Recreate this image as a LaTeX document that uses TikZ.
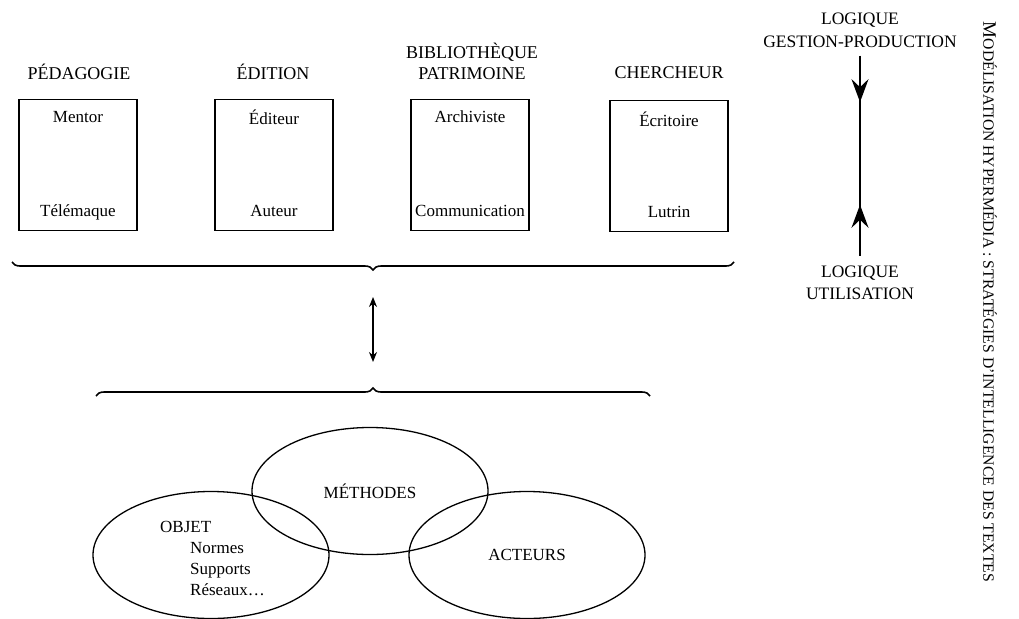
\documentclass[tikz,border=0pt]{standalone}
\usepackage{fontspec}
\setmainfont{Liberation Serif}
\usetikzlibrary{arrows.meta,decorations.pathreplacing,decorations.markings,shapes.geometric}

\begin{document}
\begin{tikzpicture}[x=1pt,y=-1pt,
  texte/.style={font=\fontsize{17}{21}\selectfont, inner sep=0pt, align=center},
  titre/.style={texte, font=\fontsize{18}{21}\selectfont},
  boite/.style={draw, line width=1.3pt, minimum width=118pt, minimum height=131pt, inner sep=0pt},
  bulle/.style={draw, ellipse, line width=1.3pt, minimum width=236pt, minimum height=127pt, inner sep=0pt, font=\fontsize{17}{21}\selectfont},
  accolade/.style={decorate, decoration={brace, amplitude=8pt}, line width=1.6pt},
  fleche/.style={{Stealth[length=10pt,width=8pt]}-{Stealth[length=10pt,width=8pt]}, line width=1.4pt},
  pointe/.tip={Stealth[length=23pt,width=17pt,inset=8pt]}]
\useasboundingbox (0,0) rectangle (1019,618);

\node[boite] (ped) at (78,165) {};
\node[boite] (edi) at (274,165) {};
\node[boite] (bib) at (470,165) {};
\node[boite] (che) at (669,166) {};

\node[titre] (tped) at (79,72) {PÉDAGOGIE};
\node[titre] (tedi) at (273,72) {ÉDITION};
\node[titre] (tbib) at (472,61) {BIBLIOTHÈQUE\\PATRIMOINE};
\node[titre] (tche) at (669,73) {CHERCHEUR};

\node[texte] (mentor) at (78,117) {Mentor};
\node[texte] (telem) at (78,212) {Télémaque};
\node[texte] (editeur) at (274,117) {Éditeur};
\node[texte] (auteur) at (274,211) {Auteur};
\node[texte] (archi) at (470,117) {Archiviste};
\node[texte] (commu) at (470,211) {Communication};
\node[texte] (ecrit) at (669,119) {Écritoire};
\node[texte] (lutrin) at (669,212) {Lutrin};

\coordinate (accHG) at (12,262);
\coordinate (accHD) at (734,262);
\coordinate (pointeHaut) at (373,270);
\coordinate (accBG) at (96,396);
\coordinate (accBD) at (650,396);
\coordinate (pointeBas) at (373,388);
\draw[accolade, decoration={mirror}] (accHG) -- (accHD);
\draw[accolade] (accBG) -- (accBD);
\draw[fleche, shorten <=27pt, shorten >=26pt] (pointeHaut) -- (pointeBas);

\node[texte, font=\fontsize{17.5}{23}\selectfont] (gest) at (860,30) {LOGIQUE\\GESTION-PRODUCTION};
\node[texte, font=\fontsize{17.5}{22}\selectfont] (util) at (860,283) {LOGIQUE\\UTILISATION};
\draw[line width=2.2pt, shorten <=8pt, shorten >=10pt, postaction=decorate,
  decoration={markings,
    mark=at position 0.25 with {\arrow{pointe}},
    mark=at position 0.72 with {\arrowreversed{pointe}}}] (gest) -- (util);

\node[rotate=-90, inner sep=0pt] (entete) at (990,302)
  {{\fontsize{19}{19}\selectfont M}{\fontsize{15.7}{16}\selectfont ODÉLISATION HYPERMÉDIA : STRATÉGIES D’INTELLIGENCE DES TEXTES}};

\node[bulle] (meth) at (370,491) {MÉTHODES};
\node[bulle] (obj) at (211,555) {};
\node[bulle] (act) at (527,555) {ACTEURS};
\node[texte, align=left, anchor=north west] (objtxt) at (160,521)
  {OBJET\\\hspace*{30pt}Normes\\\hspace*{30pt}Supports\\\hspace*{30pt}Réseaux…};
\end{tikzpicture}
\end{document}
